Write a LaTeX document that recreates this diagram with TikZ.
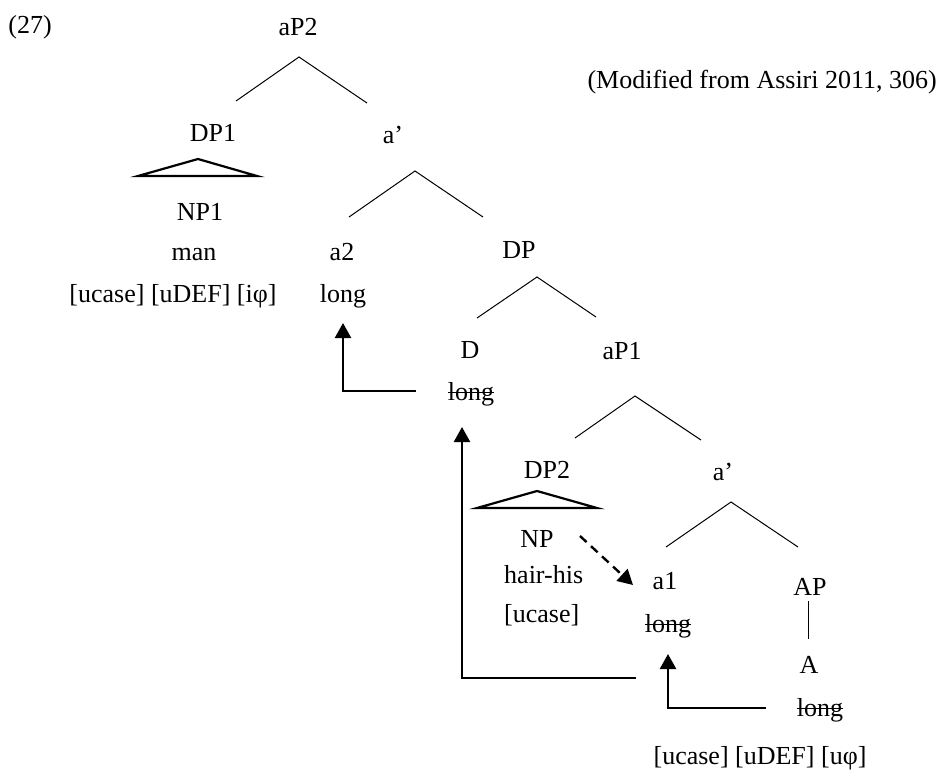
\documentclass[tikz,border=0pt]{standalone}
\usepackage{fontspec}
\setmainfont{Liberation Serif}
\usetikzlibrary{arrows.meta}
% struck-through word (deleted copy)
\newsavebox\strkbox
\newcommand\struck[1]{\sbox\strkbox{#1}\rlap{\rule[0.27em]{\wd\strkbox}{1.3pt}}\usebox\strkbox}

\begin{document}
\begin{tikzpicture}[x=1pt,y=-1pt,
  lbl/.style={anchor=base, inner sep=0pt, font=\fontsize{26}{30}\selectfont},
  branch/.style={line width=1pt},
  roof/.style={line width=2.2pt, line join=miter},
  mv/.style={line width=2.4pt, -{Triangle[width=16pt,length=15pt]}},
  dashmv/.style={mv, dash pattern=on 9pt off 6pt}]
\useasboundingbox (0,0) rectangle (945,772);

% labels
\node[lbl] (ex) at (30,33) {(27)};
\node[lbl] (aP2) at (298,35) {aP2};
\node[lbl, anchor=base east] (src) at (937,88) {(Modified from Assiri 2011, 306)};
\node[lbl] (DP1) at (213,141) {DP1};
\node[lbl] (abarB) at (393,143) {a’};
\node[lbl] (NP1) at (200,220) {NP1};
\node[lbl] (man) at (194,260) {man};
\node[lbl] (featA) at (173,302) {[ucase] [uDEF] [iφ]};
\node[lbl] (a2) at (342,260) {a2};
\node[lbl] (a2long) at (343,302) {long};
\node[lbl] (DP) at (519,258) {DP};
\node[lbl] (D) at (470,358) {D};
\node[lbl] (Dlong) at (471,400) {\struck{long}};
\node[lbl] (aP1) at (622,359) {aP1};
\node[lbl] (DP2) at (547,478) {DP2};
\node[lbl] (abarA) at (723,480) {a’};
\node[lbl] (NP) at (537,547) {NP};
\node[lbl, anchor=base west] (hair) at (504,583) {hair-his};
\node[lbl, anchor=base west] (caseB) at (504,622) {[ucase]};
\node[lbl] (a1) at (665,589) {a1};
\node[lbl] (a1long) at (668,632) {\struck{long}};
\node[lbl] (AP) at (810,595) {AP};
\node[lbl] (A) at (809,673) {A};
\node[lbl] (Along) at (820,716) {\struck{long}};
\node[lbl] (featB) at (760,764) {[ucase] [uDEF] [uφ]};

% branch points
\coordinate (aP2-b) at (299,57);
\coordinate (DP1-t) at (236,101);
\coordinate (abarB-t) at (367,103);
\coordinate (abarB-b) at (415,171);
\coordinate (a2-t) at (349,217);
\coordinate (DP-t) at (483,217);
\coordinate (DP-b) at (537,277);
\coordinate (D-t) at (477,318);
\coordinate (aP1-t) at (596,317);
\coordinate (aP1-b) at (635,396);
\coordinate (DP2-t) at (575,438);
\coordinate (abarA-t) at (701,440);
\coordinate (abarA-b) at (731,502);
\coordinate (a1-t) at (666,547);
\coordinate (AP-t) at (798,547);
\coordinate (AP-b) at (808,601);
\coordinate (A-t) at (808,639);

\draw[branch] (DP1-t) -- (aP2-b) -- (abarB-t);
\draw[branch] (a2-t) -- (abarB-b) -- (DP-t);
\draw[branch] (D-t) -- (DP-b) -- (aP1-t);
\draw[branch] (DP2-t) -- (aP1-b) -- (abarA-t);
\draw[branch] (a1-t) -- (abarA-b) -- (AP-t);
\draw[branch] (AP-b) -- (A-t);

% roofs
\coordinate (roofA-apex) at (198,159);
\coordinate (roofA-l) at (138,176);
\coordinate (roofA-r) at (257,176);
\draw[roof] (roofA-apex) -- (roofA-r) -- (roofA-l) -- cycle;
\coordinate (roofB-apex) at (537,491);
\coordinate (roofB-l) at (477,508);
\coordinate (roofB-r) at (597,508);
\draw[roof] (roofB-apex) -- (roofB-r) -- (roofB-l) -- cycle;

% movement arrows
\coordinate (mvA-s) at (416,391);
\coordinate (mvA-e) at (343,323);
\draw[mv] (mvA-s) -| (mvA-e);
\coordinate (mvB-s) at (636,678);
\coordinate (mvB-e) at (462,427);
\draw[mv] (mvB-s) -| (mvB-e);
\coordinate (mvC-s) at (766,708);
\coordinate (mvC-e) at (668,654);
\draw[mv] (mvC-s) -| (mvC-e);
\coordinate (agr-s) at (580,536);
\coordinate (agr-e) at (633,585);
\draw[dashmv] (agr-s) -- (agr-e);
\end{tikzpicture}
\end{document}
